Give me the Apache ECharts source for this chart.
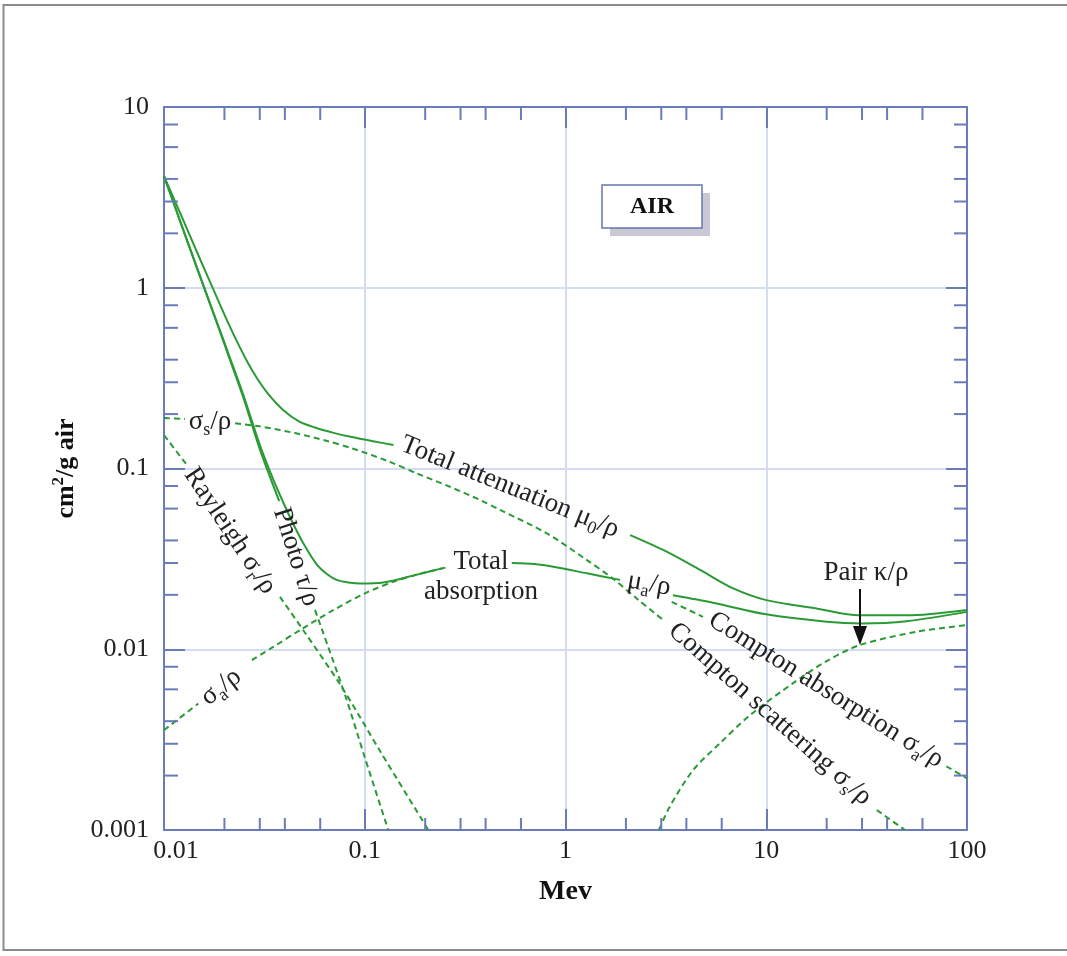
<!DOCTYPE html>
<html><head><meta charset="utf-8">
<script src="https://cdn.jsdelivr.net/npm/echarts@6/dist/echarts.min.js"></script>
<style>html,body{margin:0;padding:0;background:#fff}#c{width:1067px;height:956px}</style>
</head><body><div id="c"></div>
<script>
// ---- tick definitions ----
const xTickValues = [0.01, 0.1, 1, 10, 100];
const xTickLabels = ['0.01', '0.1', '1', '10', '100'];
const yTickValues = [0.001, 0.01, 0.1, 1, 10];
const yTickLabels = ['0.001', '0.01', '0.1', '1', '10'];
const xMinorMultipliers = [2, 3, 4, 6];
const yMinorMultipliers = [2, 3, 4, 6, 8];

// ---- curves: [MeV, cm2/g] ; segments are split where a label interrupts the line ----
const totalAttenuationA = [[0.01,4.15],[0.0125,2.35],[0.015,1.47],[0.0175,0.995],[0.02,0.71],[0.0226,0.53],[0.026,0.39],[0.029,0.317],[0.0331,0.258],[0.0392,0.211],[0.047,0.1825],[0.0565,0.1685],[0.07,0.1574],[0.085,0.1497],[0.11,0.1415],[0.139,0.135]];
const totalAttenuationB = [[2.1,0.0428],[3.19,0.0347],[4.68,0.0275],[6.85,0.0217],[10,0.0187],[17.8,0.0168],[29,0.0154],[50,0.0154],[100,0.0165]];
const totalAbsorptionA = [[0.01,4.15],[0.0125,2.08],[0.015,1.19],[0.0185,0.63],[0.0213,0.41],[0.025,0.25],[0.03,0.135],[0.035,0.087],[0.04,0.062],[0.045,0.047],[0.05,0.0377],[0.0576,0.0295],[0.065,0.026],[0.0725,0.0242],[0.085,0.0233],[0.0946,0.0231],[0.1237,0.0234],[0.18,0.0258],[0.245,0.0281]];
const totalAbsorptionB = [[0.54,0.0300],[0.7,0.0296],[0.87,0.0286],[1.28,0.0263],[1.87,0.0242]];
const totalAbsorptionC = [[3.43,0.0199],[5.43,0.0181],[10,0.0156],[20,0.0142],[30,0.0139],[50,0.0143],[100,0.0161]];
const photoSolid = [[0.01,4.15],[0.0125,2.07],[0.015,1.18],[0.0185,0.62],[0.0213,0.40],[0.025,0.242],[0.03,0.128],[0.0375,0.066]];
const photoDashed = [[0.0565,0.0165],[0.0797,0.0056],[0.1003,0.0025],[0.131,0.001]];
const comptonScatterA = [[0.01,0.19],[0.0127,0.188]];
const comptonScatterB = [[0.0226,0.178],[0.03,0.171],[0.045,0.157],[0.065,0.142],[0.087,0.129],[0.13,0.110],[0.1815,0.094],[0.26,0.080],[0.375,0.067],[0.472,0.059],[0.806,0.0438],[1.275,0.0312],[1.73,0.0245],[2.3,0.0188],[3.07,0.0145]];
const comptonScatterC = [[35.5,0.00129],[49.1,0.001]];
const comptonAbsA = [[0.01,0.00357],[0.0148,0.0050]];
const comptonAbsB = [[0.0274,0.0087],[0.035,0.0103],[0.0494,0.0131],[0.07,0.0165],[0.1003,0.0204],[0.14,0.0237],[0.192,0.0263],[0.26,0.0285]];
const comptonAbsC = [[3.38,0.0183],[4.84,0.0151]];
const comptonAbsD = [[79,0.00225],[100,0.00193]];
const rayleighA = [[0.01,0.153],[0.013,0.1046]];
const rayleighB = [[0.0378,0.0195],[0.05,0.0125],[0.0767,0.0062],[0.12,0.0027],[0.2073,0.001]];
const pairData = [[2.92,0.001],[3.31,0.00135],[4.33,0.00215],[5.88,0.00302],[8.3,0.00432],[13.6,0.00649],[20,0.0086],[29.3,0.01055],[56.1,0.0125],[100,0.0136]];

const GREEN = '#2a9a35';
const AXIS = '#6a7cb8';
const GRIDC = '#d3dcf1';
const SERIF = '"Liberation Serif","Times New Roman",serif';
const X_MIN = 0.01, X_MAX = 100, Y_MIN = 0.001, Y_MAX = 10;

const solidSets = [totalAttenuationA, totalAttenuationB, totalAbsorptionA, totalAbsorptionB, totalAbsorptionC, photoSolid];
const dashedSets = [photoDashed, comptonScatterA, comptonScatterB, comptonScatterC, comptonAbsA, comptonAbsB, comptonAbsC, comptonAbsD, rayleighA, rayleighB, pairData];

function lineSeries(d, dashed) {
  return {
    type: 'line', data: d, showSymbol: false, smooth: 0.3,
    xAxisIndex: 0, yAxisIndex: 0, silent: true, z: 3,
    lineStyle: { color: GREEN, width: 2, type: dashed ? [6, 4] : 'solid' }
  };
}

const decadesX = [0.01, 0.1, 1, 10];
const decadesY = [0.001, 0.01, 0.1, 1];
const xMinor = [], yMinor = [];
decadesX.forEach(d => xMinorMultipliers.forEach(m => xMinor.push(d * m)));
decadesY.forEach(d => yMinorMultipliers.forEach(m => yMinor.push(d * m)));

function minorTicks(values, dir) {
  return {
    type: 'custom', coordinateSystem: 'cartesian2d', xAxisIndex: 0, yAxisIndex: 0,
    silent: true, clip: false, z: 6,
    data: values.map(v => dir === 'x' ? [v, 1] : [1, v]),
    renderItem: function (params, api) {
      const st = { stroke: AXIS, lineWidth: 2 };
      if (dir === 'x') {
        const v = api.value(0);
        const b = api.coord([v, Y_MIN]), t = api.coord([v, Y_MAX]);
        return { type: 'group', children: [
          { type: 'line', shape: { x1: b[0], y1: b[1], x2: b[0], y2: b[1] - 12 }, style: st },
          { type: 'line', shape: { x1: t[0], y1: t[1], x2: t[0], y2: t[1] + 13 }, style: st }
        ]};
      } else {
        const v = api.value(1);
        const l = api.coord([X_MIN, v]), r = api.coord([X_MAX, v]);
        return { type: 'group', children: [
          { type: 'line', shape: { x1: l[0], y1: l[1], x2: l[0] + 14, y2: l[1] }, style: st },
          { type: 'line', shape: { x1: r[0], y1: r[1], x2: r[0] - 13, y2: r[1] }, style: st }
        ]};
      }
    }
  };
}

function fmt(values, labels) {
  return function (v) {
    const i = values.findIndex(t => Math.abs(Math.log10(t) - Math.log10(v)) < 0.01);
    return i >= 0 ? labels[i] : '';
  };
}

const axisCommon = {
  type: 'log', logBase: 10,
  axisLine: { show: true, lineStyle: { color: AXIS, width: 2 } },
  axisTick: { show: true, inside: true, length: 21, lineStyle: { color: AXIS, width: 2 } },
  minorTick: { show: false }
};

const xAxes = [
  Object.assign({}, axisCommon, {
    position: 'bottom', min: X_MIN, max: X_MAX,
    name: 'Mev', nameLocation: 'middle', nameGap: 48,
    nameTextStyle: { fontFamily: SERIF, fontSize: 28, fontWeight: 'bold', color: '#111' },
    axisLabel: {
      show: true, margin: 8, showMinLabel: true, showMaxLabel: true,
      fontFamily: SERIF, fontSize: 26, color: '#222',
      formatter: function (v) {
        const s = fmt(xTickValues, xTickLabels)(v);
        return Math.abs(Math.log10(v) + 2) < 0.01 ? '{first|' + s + '}' : s;
      },
      rich: { first: { fontFamily: SERIF, fontSize: 26, color: '#222', padding: [0, 0, 0, 24] } }
    },
    splitLine: { show: true, lineStyle: { color: GRIDC, width: 2 } }
  }),
  Object.assign({}, axisCommon, {
    position: 'top', min: X_MIN, max: X_MAX,
    axisLabel: { show: false }, splitLine: { show: false }
  })
];
const yAxes = [
  Object.assign({}, axisCommon, {
    position: 'left', min: Y_MIN, max: Y_MAX,
    name: '{b|cm}{sup|2}{b|/g air}', nameLocation: 'middle', nameGap: 20,
    nameTextStyle: {
      rich: {
        b: { fontFamily: SERIF, fontSize: 26, fontWeight: 'bold', color: '#111', lineHeight: 32, verticalAlign: 'middle' },
        sup: { fontFamily: SERIF, fontSize: 17, fontWeight: 'bold', color: '#111', lineHeight: 17, verticalAlign: 'top' }
      }
    },
    axisLabel: {
      show: true, margin: 15, showMinLabel: true, showMaxLabel: true,
      fontFamily: SERIF, fontSize: 26, color: '#222',
      formatter: fmt(yTickValues, yTickLabels)
    },
    splitLine: { show: true, lineStyle: { color: GRIDC, width: 2 } }
  }),
  Object.assign({}, axisCommon, {
    position: 'right', min: Y_MIN, max: Y_MAX,
    axisLabel: { show: false }, splitLine: { show: false }
  })
];

const richBase = {
  m: { fontFamily: SERIF, fontSize: 27, color: '#222', lineHeight: 34, verticalAlign: 'middle' },
  s: { fontFamily: SERIF, fontSize: 18, color: '#222', lineHeight: 18, verticalAlign: 'bottom' }
};
function rotLabel(text, x, y, deg) {
  return {
    type: 'text', x: x, y: y, rotation: -deg * Math.PI / 180, z: 20,
    style: {
      text: text, x: 0, y: 0, align: 'center', verticalAlign: 'middle',
      textAlign: 'center', textVerticalAlign: 'middle',
      fontFamily: SERIF, fontSize: 27, fill: '#222', rich: richBase
    }
  };
}

// annotation labels: [text, centerX, centerY, angle (deg, clockwise)]
const annotations = [
  ['{m|σ}{s|s}{m|/ρ}', 210, 422, 0],
  ['{m|Rayleigh σ}{s|r}{m|/ρ}', 230, 531, 56.3],
  ['{m|Photo τ/ρ}', 296, 557, 72.3],
  ['{m|Total attenuation μ}{s|0}{m|/ρ}', 510, 487, 22],
  ['{m|μ}{s|a}{m|/ρ}', 649, 584, 10],
  ['{m|Compton absorption σ}{s|a}{m|/ρ}', 826, 690, 32],
  ['{m|Compton scattering σ}{s|s}{m|/ρ}', 770, 714, 41.5],
  ['{m|Pair κ/ρ}', 866, 573, 0],
  ['{m|σ}{s|a}{m|/ρ}', 221, 687, -38]
];

const graphics = [
  { type: 'rect', shape: { x: 3.5, y: 5, width: 1075, height: 945 }, style: { fill: 'none', stroke: '#8c8c8c', lineWidth: 2 }, z: 0 },
  { type: 'rect', shape: { x: 610, y: 193, width: 100, height: 43 }, style: { fill: '#c9c9d6' }, z: 10 },
  { type: 'rect', shape: { x: 602, y: 185, width: 100, height: 43 }, style: { fill: '#fff', stroke: '#6676b0', lineWidth: 1.5 }, z: 11 },
  { type: 'text', x: 652, y: 207, z: 12, style: { text: 'AIR', align: 'center', verticalAlign: 'middle', textAlign: 'center', textVerticalAlign: 'middle', fontFamily: SERIF, fontSize: 24, fontWeight: 'bold', fill: '#111' } },
  { type: 'text', x: 481, y: 577, z: 20, style: { text: 'Total\nabsorption', align: 'center', verticalAlign: 'middle', textAlign: 'center', textVerticalAlign: 'middle', fontFamily: SERIF, fontSize: 27, lineHeight: 30, fill: '#222' } },
  { type: 'line', shape: { x1: 860, y1: 589, x2: 860, y2: 630 }, style: { stroke: '#111', lineWidth: 2 }, z: 20 },
  { type: 'polygon', shape: { points: [[853, 626], [867, 626], [860, 645]] }, style: { fill: '#111' }, z: 20 }
].concat(annotations.map(a => rotLabel(a[0], a[1], a[2], a[3])));

const series = []
  .concat(solidSets.map(d => lineSeries(d, false)))
  .concat(dashedSets.map(d => lineSeries(d, true)))
  .concat([minorTicks(xMinor, 'x'), minorTicks(yMinor, 'y')]);

const chart = echarts.init(document.getElementById('c'), null, { renderer: 'canvas' });
chart.setOption({
  animation: false,
  backgroundColor: '#fff',
  grid: { left: 164, right: 100, top: 107, bottom: 126, containLabel: false },
  xAxis: xAxes,
  yAxis: yAxes,
  series: series,
  graphic: { elements: graphics }
});
</script>
</body></html>
